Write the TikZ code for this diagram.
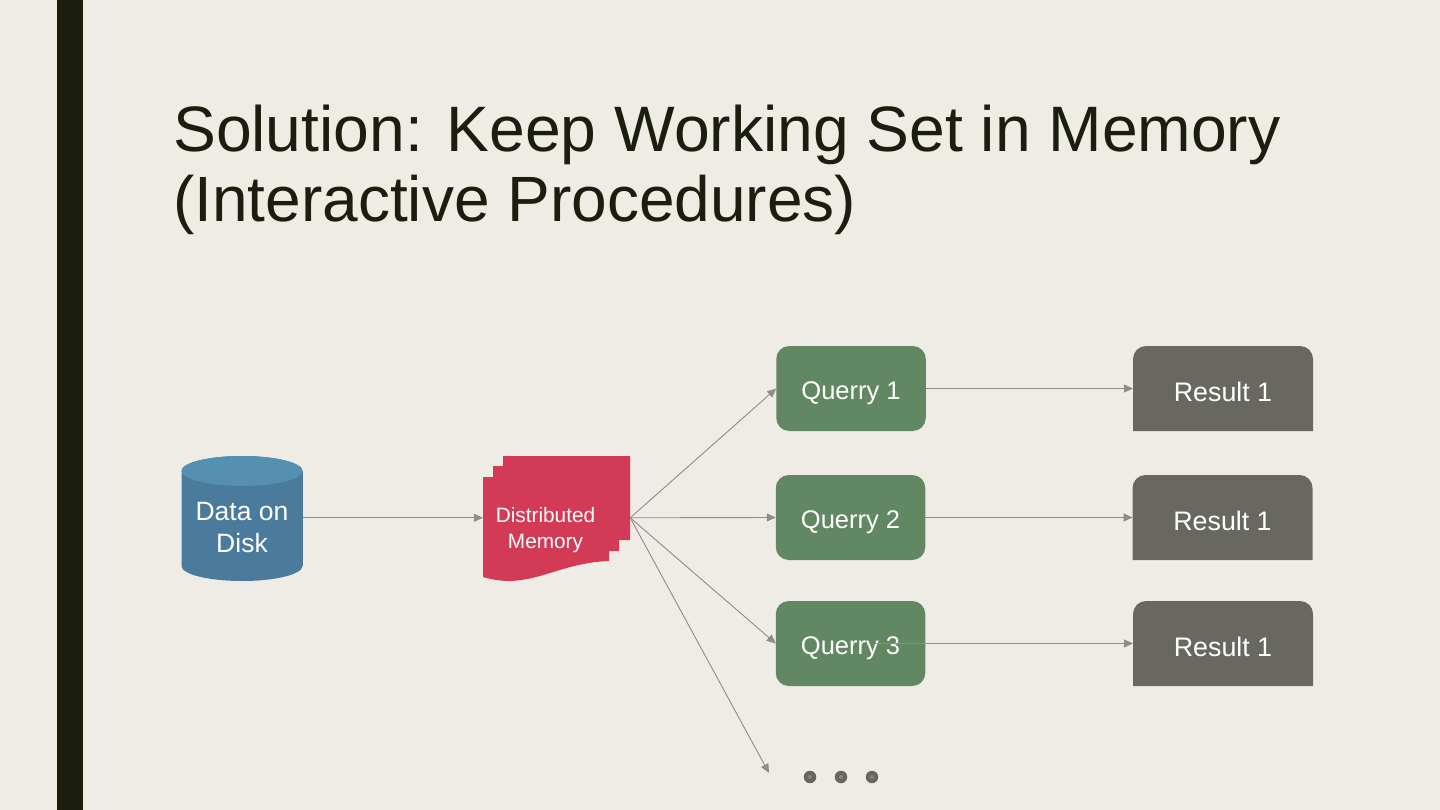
\documentclass[tikz,border=0pt]{standalone}
\usepackage{fontspec}
\setmainfont{Liberation Sans}
\usetikzlibrary{arrows.meta}
\definecolor{bg}{HTML}{EEECE4}
\definecolor{ink}{HTML}{1B1E0F}
\definecolor{cylbody}{HTML}{4A7A9C}
\definecolor{cyltop}{HTML}{5590B0}
\definecolor{docred}{HTML}{D23A56}
\definecolor{qgreen}{HTML}{628763}
\definecolor{rgrey}{HTML}{686860}
\definecolor{conn}{HTML}{8E8E85}
\definecolor{dotc}{HTML}{666660}
\definecolor{dotm}{HTML}{85857D}
\newcommand{\fs}[1]{\fontsize{#1}{#1}\selectfont}
\tikzset{
  x=1pt,y=-1pt,
  box/.style={inner sep=0pt,outer sep=0pt,minimum width=#1,minimum height=85pt,anchor=center},
  qbox/.style={box=149.5pt,fill=qgreen,rounded corners=13pt},
  rbox/.style={box=180pt},
  rtext/.style={text=white,font=\fs{26.8},inner sep=0pt},
  qtext/.style={text=white,font=\fs{25.5},inner sep=0pt},
  link/.style={draw=conn,line width=0.9pt,-{Triangle[length=9pt,width=8pt,fill=conn]}},
  dotn/.style={circle,inner sep=0pt,minimum size=12.5pt,fill=dotc},
  dotk/.style={circle,fill=dotm,inner sep=0pt,minimum size=4pt},
}
\begin{document}
\begin{tikzpicture}
\useasboundingbox (0,0) rectangle (1440,810);
\fill[bg] (0,0) rectangle (1440,810);
\fill[ink] (57,0) rectangle (83,810);
\node[anchor=west,inner sep=0pt,text=ink,font=\fs{64.2}] (t1) at (173,135) {Solution: Keep Working Set in Memory};
\node[anchor=west,inner sep=0pt,text=ink,font=\fs{64}] (t2) at (173,205) {(Interactive Procedures)};
% cylinder
\fill[cylbody] (181.5,471) arc[x radius=60.5,y radius=15,start angle=180,end angle=360] -- (302.5,566) arc[x radius=60.5,y radius=15,start angle=0,end angle=180] -- cycle;
\fill[cylbody] (181.5,471) rectangle (302.5,566);
\fill[cyltop] (242,471) ellipse[x radius=60.5,y radius=15];
\node[inner sep=0pt,minimum width=121pt,minimum height=125pt] (data) at (242,517.8) {};
\node[align=center,text=white,font=\fontsize{26.5}{32}\selectfont,inner sep=0pt] (datat) at (242,528) {Data on\\Disk};
% document stack
\fill[docred] (630,456) -- (503,456) -- (503,466) -- (493,466) -- (493,477) -- (483,477) -- (483,577)
  .. controls (530,591) and (555,563) .. (609,561) -- (609,551) -- (619,551) -- (619,540) -- (630,540) -- cycle;
\node[inner sep=0pt,minimum width=147pt,minimum height=125pt] (mem) at (556.5,517.8) {};
\node[align=center,text=white,inner sep=0pt,font=\fontsize{20.8}{26}\selectfont] (memt) at (545.5,530) {Distributed\\Memory};
% queries
\node[qbox] (q1) at (851,388.5) {};
\node[qbox] (q2) at (850.5,517.5) {};
\node[qbox] (q3) at (850.5,643.5) {};
\node[qtext] (q1t) at (851,393) {Querry 1};
\node[qtext] (q2t) at (850.5,522) {Querry 2};
\node[qtext] (q3t) at (850.5,648) {Querry 3};
% results
\foreach \x/\y in {1133/346,1132.5/475,1133/601}{
  \fill[rgrey] (\x,\y+85) -- (\x,\y+13) arc[start angle=180,end angle=90,y radius=-13,x radius=13] -- (\x+167,\y) arc[x radius=13,y radius=-13,start angle=90,end angle=0] -- (\x+180,\y+85) -- cycle;
}
\node[rbox] (r1) at (1223,388.5) {};
\node[rbox] (r2) at (1222.5,517.5) {};
\node[rbox] (r3) at (1223,643.5) {};
\node[rtext] (r1t) at (1223,392) {Result 1};
\node[rtext] (r2t) at (1222.5,521) {Result 1};
\node[rtext] (r3t) at (1223,647) {Result 1};
% dots
\node[dotn] (d1) at (810,777) {};
\node[dotn] (d2) at (841,777) {};
\node[dotn] (d3) at (872,777) {};
\node[dotk] (k1) at (d1) {};
\node[dotk] (k2) at (d2) {};
\node[dotk] (k3) at (d3) {};
% connectors
\coordinate (q3in) at (875,643.5);
\coordinate (dend) at (769,773);
\draw[link] (data.east) -- (mem.west);
\draw[link] (mem.east) -- (q1.west);
\draw[link] (mem.east) -- (q2.west);
\draw[link] (mem.east) -- (q3.west);
\draw[link] (mem.east) -- (dend);
\draw[link] (q1.east) -- (r1.west);
\draw[link] (q2.east) -- (r2.west);
\draw[link] (q3in) -- (r3.west);
\end{tikzpicture}
\end{document}
